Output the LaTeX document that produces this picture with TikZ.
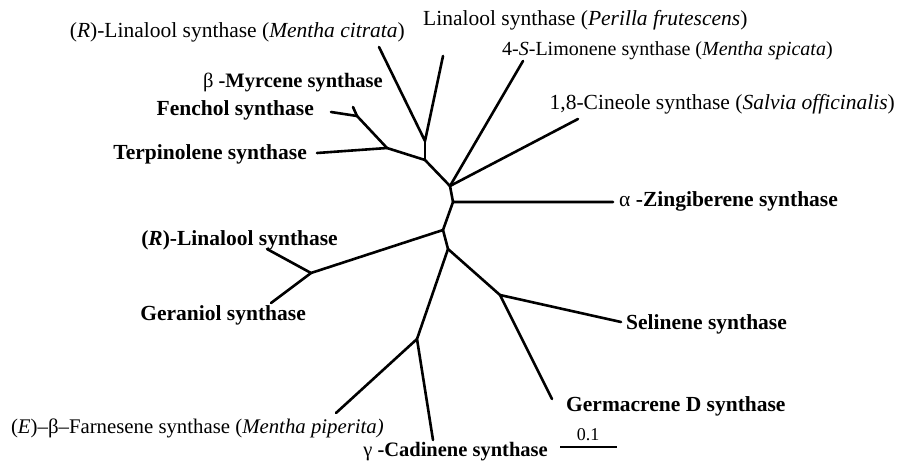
\documentclass[tikz,border=0pt]{standalone}
\usepackage{fontspec}
\setmainfont{Liberation Serif}
\begin{document}
\begin{tikzpicture}[x=1pt,y=-1pt,
  br/.style={line width=2.6pt,line cap=round,line join=round},
  lbl/.style={inner sep=0pt,font=\fontsize{21.5}{25}\selectfont},
  blbl/.style={inner sep=0pt,font=\fontsize{21.5}{25}\selectfont\bfseries}]
\useasboundingbox (0,0) rectangle (899,463);
% junctions
\coordinate (jA) at (425,141);
\coordinate (jB) at (425,160);
\coordinate (jT) at (387,148);
\coordinate (jF) at (357,116);
\coordinate (jC) at (450,186);
\coordinate (jZ) at (453,202);
\coordinate (jG) at (443,230);
\coordinate (jL) at (311,273);
\coordinate (jS) at (448,249);
\coordinate (jSe) at (500,295);
\coordinate (jCa) at (417,339);
% tips
\coordinate (tMc) at (379,47);
\coordinate (tPf) at (443,56);
\coordinate (tMy) at (353,107);
\coordinate (tFe) at (331,112);
\coordinate (tTe) at (317,153);
\coordinate (tLi) at (523,61);
\coordinate (tCi) at (578,119);
\coordinate (tZi) at (613,202);
\coordinate (tRL) at (267,249);
\coordinate (tGe) at (271,303);
\coordinate (tSe) at (621,322);
\coordinate (tGm) at (552,399);
\coordinate (tFa) at (336,413);
\coordinate (tCa) at (433,440);
\coordinate (sb1) at (560,447);
\coordinate (sb2) at (617,447);
% branches
\draw[br] (tMc) -- (jA) -- (tPf);
\draw[br] (jA) -- (jB);
\draw[br] (jB) -- (jT);
\draw[br] (jT) -- (tTe);
\draw[br] (jT) -- (jF);
\draw[br] (jF) -- (tMy);
\draw[br] (jF) -- (tFe);
\draw[br] (jB) -- (jC);
\draw[br] (jC) -- (tLi);
\draw[br] (jC) -- (tCi);
\draw[br] (jC) -- (jZ) -- (tZi);
\draw[br] (jZ) -- (jG);
\draw[br] (jG) -- (jL);
\draw[br] (jL) -- (tRL);
\draw[br] (jL) -- (tGe);
\draw[br] (jG) -- (jS);
\draw[br] (jS) -- (jSe);
\draw[br] (jSe) -- (tSe);
\draw[br] (jSe) -- (tGm);
\draw[br] (jS) -- (jCa);
\draw[br] (jCa) -- (tFa);
\draw[br] (jCa) -- (tCa);
\draw[line width=2.2pt] (sb1) -- (sb2);
% labels
\node[lbl,anchor=east] (nMc) at (405,32) {(\textit{R})-Linalool synthase (\textit{Mentha citrata})};
\node[lbl,anchor=west] (nPf) at (423,20) {Linalool synthase (\textit{Perilla frutescens})};
\node[lbl,anchor=west,font=\fontsize{20}{24}\selectfont] (nLi) at (502,51) {4-\textit{S}-Limonene synthase (\textit{Mentha spicata})};
\node[lbl,anchor=east] (nCi) at (895,104) {1,8-Cineole synthase (\textit{Salvia officinalis})};
\node[lbl,anchor=east,font=\fontsize{20.5}{24}\selectfont] (nMy) at (383,82) {β \textbf{-Myrcene synthase}};
\node[blbl,anchor=east] (nFe) at (314,110) {Fenchol synthase};
\node[blbl,anchor=east] (nTe) at (307,154) {Terpinolene synthase};
\node[lbl,anchor=west] (nZi) at (619,201) {α \textbf{-Zingiberene synthase}};
\node[blbl,anchor=east] (nRL) at (338,240) {(\textit{R})-Linalool synthase};
\node[blbl,anchor=east] (nGe) at (306,315) {Geraniol synthase};
\node[blbl,anchor=west] (nSe) at (626,324) {Selinene synthase};
\node[blbl,anchor=west] (nGm) at (566,406) {Germacrene D synthase};
\node[lbl,anchor=east,font=\fontsize{20.8}{24}\selectfont] (nFa) at (384,428) {(\textit{E})–β–Farnesene synthase (\textit{Mentha piperita)}};
\node[lbl,anchor=east,font=\fontsize{20.5}{24}\selectfont] (nCa) at (548,452) {γ \textbf{-Cadinene synthase}};
\node[lbl,font=\fontsize{18}{20}\selectfont] (nSb) at (588,435) {0.1};
\end{tikzpicture}
\end{document}
